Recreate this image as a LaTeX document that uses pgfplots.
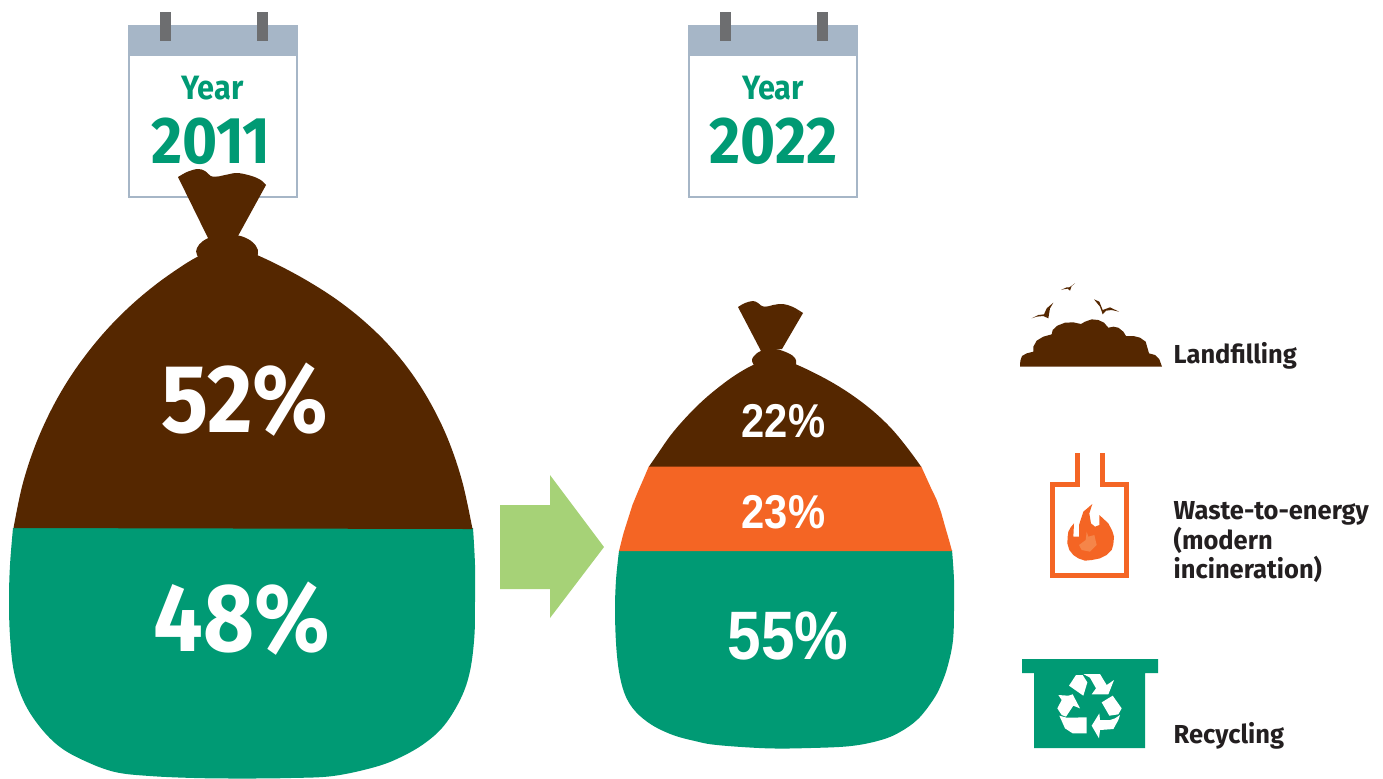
\documentclass[border=0pt]{standalone}
\usepackage{pgfplots}
\pgfplotsset{compat=1.18}
\usepackage{fontspec}
\setmainfont{Fira Sans}[FakeStretch=0.91]
\newfontfamily\legendfont{Fira Sans}[FakeStretch=0.98]
\newfontfamily\robotolike{Liberation Sans}[FakeStretch=0.88]
\definecolor{bagbrown}{HTML}{552700}
\definecolor{baggreen}{HTML}{009A74}
\definecolor{bagorange}{HTML}{F46524}
\definecolor{arrowgreen}{HTML}{A6D277}
\definecolor{calblue}{HTML}{A6B6C7}
\definecolor{pin}{HTML}{6D6E70}
\definecolor{flamelight}{HTML}{F58549}
\definecolor{legtext}{HTML}{231F20}
\newcommand{\zplot}[5]{\addplot[#1] table[header=false,row sep=\\,x expr={#2+\thisrowno{0}/#4},y expr={#3+\thisrowno{1}/#4}]{#5};}
\newcommand{\fs}[1]{\fontsize{#1}{#1}\selectfont}
\tikzset{lab/.style={anchor=base,inner sep=0pt,outer sep=0pt}}
\begin{document}
\begin{tikzpicture}
\begin{axis}[
  scale only axis, width=13.83cm, height=7.78cm,
  xmin=0, xmax=1383, ymin=0, ymax=778, y dir=reverse,
  hide axis, no markers, clip=true,
]
% page background
\addplot[fill=white,draw=none] coordinates {(0,0)(1383,0)(1383,778)(0,778)};
% calendars
\addplot[fill=white,draw=calblue,line width=0.25mm] coordinates {(129.2,26)(296.8,26)(296.8,196.8)(129.2,196.8)(129.2,26)};
\addplot[fill=calblue,draw=none] coordinates {(128,25)(298,25)(298,56)(128,56)};
\addplot[fill=pin,draw=none] coordinates {(160,12)(171,12)(171,41)(160,41)};
\addplot[fill=pin,draw=none] coordinates {(257,12)(268,12)(268,41)(257,41)};
\addplot[fill=white,draw=calblue,line width=0.25mm] coordinates {(689.2,26)(856.8,26)(856.8,196.8)(689.2,196.8)(689.2,26)};
\addplot[fill=calblue,draw=none] coordinates {(688,25)(858,25)(858,56)(688,56)};
\addplot[fill=pin,draw=none] coordinates {(720,12)(731,12)(731,41)(720,41)};
\addplot[fill=pin,draw=none] coordinates {(817,12)(828,12)(828,41)(817,41)};
% bag 2011
\addplot[smooth,tension=0.6,fill=baggreen,draw=none] coordinates {(473,528)(475,565)(475,600)(474.4,636)(470,671)(461,698)(444.5,725)(425,743)(401,757)(375,767)(333,776)(290,778)(242,778.5)(195,778)(150,776)(115,772)(85,761)(60,747)(40,727)(24,702)(14,672)(10,636)(9,600)(10,565)(13,528)};
\addplot[smooth,tension=0.6,fill=bagbrown,draw=none] coordinates {(13.5,528)(22.3,485.4)(34.8,446.6)(50.4,411.4)(68.5,379.6)(88.6,351.3)(110,326.1)(132,304.4)(154.4,285.6)(176.2,269.9)(197,257)(227,243)(257,255)(283.7,267.8)(310.6,282.7)(337.2,299.9)(362.9,320.1)(387.4,343.6)(410.1,371.1)(430.4,402.9)(448,439.3)(462.2,481.4)(472.5,529)};
\addplot[fill=bagbrown,draw=none] coordinates {(178,177)(222,176.5)(266,185)(238,236)(208,238)};
\addplot[smooth,tension=0.6,fill=bagbrown,draw=none] coordinates {(178,177)(188,171.5)(198,169)(205,171)(213,177)(225,175)(237,173)(250,175.5)(260,179.5)(266,185)};
\addplot[smooth,tension=0.6,fill=bagbrown,draw=none] coordinates {(205,265)(197,255)(197,248)(203,241)(215,236)(235,235)(248,239)(256,246)(258,254)(252,265)};
% bag 2022
\addplot[smooth,tension=0.6,fill=baggreen,draw=none] coordinates {(952,550)(954,580)(954,610)(953,640)(948,665)(941,685)(933,700)(918,719)(900,732)(881,740)(851,746)(810,748)(767,748.3)(717,745)(695,741)(673,735)(652,725)(636,712)(626,697)(620,677)(616.5,650)(615,613)(616,580)(619,551)};
\addplot[fill=bagorange,draw=none] coordinates {(649,466)(921,466)(926,477)(931,488)(936.5,499.4)(941,512)(945.5,528)(949,540)(952,551)(619,551)(623.5,533.2)(628,519)(632.5,504.8)(638,491.5)(643.5,478.9)};
\addplot[smooth,tension=0.6,fill=bagbrown,draw=none] coordinates {(649,466.5)(656.5,455.6)(671,434.8)(687,416.3)(703,400.4)(719.5,386.6)(735.5,375)(751.8,365.6)(774,356)(795.4,364.1)(815.5,373.5)(835.5,384.4)(855,397.1)(874,411.9)(892,429.2)(908.5,449.3)(921,466.5)};
\addplot[fill=bagbrown,draw=none] coordinates {(738,307)(770,306.5)(803,313)(782,349)(761,351)};
\addplot[smooth,tension=0.6,fill=bagbrown,draw=none] coordinates {(738,307)(745,303)(753,301)(758,303)(764,307)(773,305)(783,304)(793,307)(803,313)};
\addplot[smooth,tension=0.6,fill=bagbrown,draw=none] coordinates {(756,368)(752,361)(754,356)(761,351)(775,349)(788,353)(795,358)(796,364)(792,370)};
% arrow
\addplot[fill=arrowgreen,draw=none] coordinates {(500,505)(550,505)(550,475)(604,547)(550,618)(550,589)(500,589)};
% landfill icon
\zplot{fill=bagbrown,draw=none}{1000}{270}{3}{60 290\\61 272\\66 258\\80 250\\100 245\\100 230\\110 212\\130 200\\155 193\\158 180\\172 167\\195 158\\220 157\\243 162\\255 155\\275 148\\295 150\\312 158\\325 173\\340 170\\355 173\\370 185\\378 198\\400 198\\420 203\\437 215\\447 250\\465 255\\478 268\\486 290\\}
\zplot{fill=bagbrown,draw=none}{1020}{280}{3}{35 115\\55 105\\72 103\\80 85\\100 68\\90 85\\85 115\\70 108\\50 110\\}
\zplot{fill=bagbrown,draw=none}{1020}{280}{3}{123 30\\140 22\\148 22\\165 10\\155 18\\150 32\\143 26\\130 28\\}
\zplot{fill=bagbrown,draw=none}{1020}{280}{3}{222 58\\238 65\\248 90\\270 82\\297 95\\275 90\\258 92\\248 103\\240 80\\}
% incinerator icon
\addplot[draw=bagorange,line width=0.5mm,miter limit=4] coordinates {(1077.5,453)(1077.5,484.5)(1052.5,484.5)(1052.5,575.5)(1126.5,575.5)(1126.5,484.5)(1102.5,484.5)(1102.5,453)};
\zplot{fill=bagorange,draw=none}{1055}{495}{3}{112 27\\103 55\\108 85\\120 95\\133 90\\133 60\\160 85\\172 108\\177 125\\175 148\\170 165\\155 180\\135 190\\110 195\\90 197\\70 190\\55 180\\43 165\\37 145\\38 125\\40 110\\47 97\\57 85\\55 125\\72 125\\72 90\\85 50\\}
\zplot{fill=flamelight,draw=none}{1055}{495}{3}{95 110\\100 125\\118 120\\125 150\\105 170\\80 165\\72 150\\92 135\\}
% recycling icon
\addplot[fill=baggreen,draw=none] coordinates {(1022,659)(1158,659)(1158,673)(1145,673)(1145,748)(1034,748)(1034,673)(1022,673)};
\zplot{fill=white,draw=none}{1050}{665}{3}{57 62\\78 30\\98 30\\112 52\\100 92\\}
\zplot{fill=white,draw=none}{1050}{665}{3}{100 27\\150 27\\170 60\\192 45\\175 88\\125 88\\138 70\\120 38\\}
\zplot{fill=white,draw=none}{1050}{665}{3}{155 112\\188 92\\215 130\\205 148\\178 152\\}
\zplot{fill=white,draw=none}{1050}{665}{3}{210 150\\205 165\\190 192\\150 195\\147 220\\125 182\\148 145\\150 165\\180 165\\195 160\\}
\zplot{fill=white,draw=none}{1050}{665}{3}{28 152\\50 158\\110 157\\110 205\\68 205\\45 190\\}
\zplot{fill=white,draw=none}{1050}{665}{3}{25 90\\55 92\\68 88\\90 130\\70 122\\48 155\\35 150\\22 130\\35 105\\}
% calendar text
\node[lab,text=baggreen] at (axis cs:212.5,99) {\fs{9.6}\bfseries Year};
\node[lab,text=baggreen] at (axis cs:211,163) {\fs{18.8}\bfseries 2011};
\node[lab,text=baggreen] at (axis cs:773,99) {\fs{9.6}\bfseries Year};
\node[lab,text=baggreen] at (axis cs:773.5,163) {\fs{18.8}\bfseries 2022};
% percentages
\node[lab,text=white] at (axis cs:245,432) {\fs{27.5}\bfseries 52\%};
\node[lab,text=white] at (axis cs:241.5,651) {\fs{27.5}\bfseries 48\%};
\node[lab,text=white] at (axis cs:783.5,437) {\fs{13.5}\robotolike\bfseries 22\%};
\node[lab,text=white] at (axis cs:783.5,528) {\fs{13.5}\robotolike\bfseries 23\%};
\node[lab,text=white] at (axis cs:788,659) {\fs{19.5}\robotolike\bfseries 55\%};
% legend
\node[anchor=base west,inner sep=0pt,text=legtext] at (axis cs:1173,363) {\fs{7.4}\legendfont\bfseries Landfilling};
\node[anchor=base west,inner sep=0pt,text=legtext] at (axis cs:1173,519) {\fs{7.4}\legendfont\bfseries Waste-to-energy};
\node[anchor=base west,inner sep=0pt,text=legtext] at (axis cs:1173,549) {\fs{7.4}\legendfont\bfseries (modern};
\node[anchor=base west,inner sep=0pt,text=legtext] at (axis cs:1173,578) {\fs{7.4}\legendfont\bfseries incineration)};
\node[anchor=base west,inner sep=0pt,text=legtext] at (axis cs:1173,743) {\fs{7.4}\legendfont\bfseries Recycling};
\end{axis}
\end{tikzpicture}
\end{document}
